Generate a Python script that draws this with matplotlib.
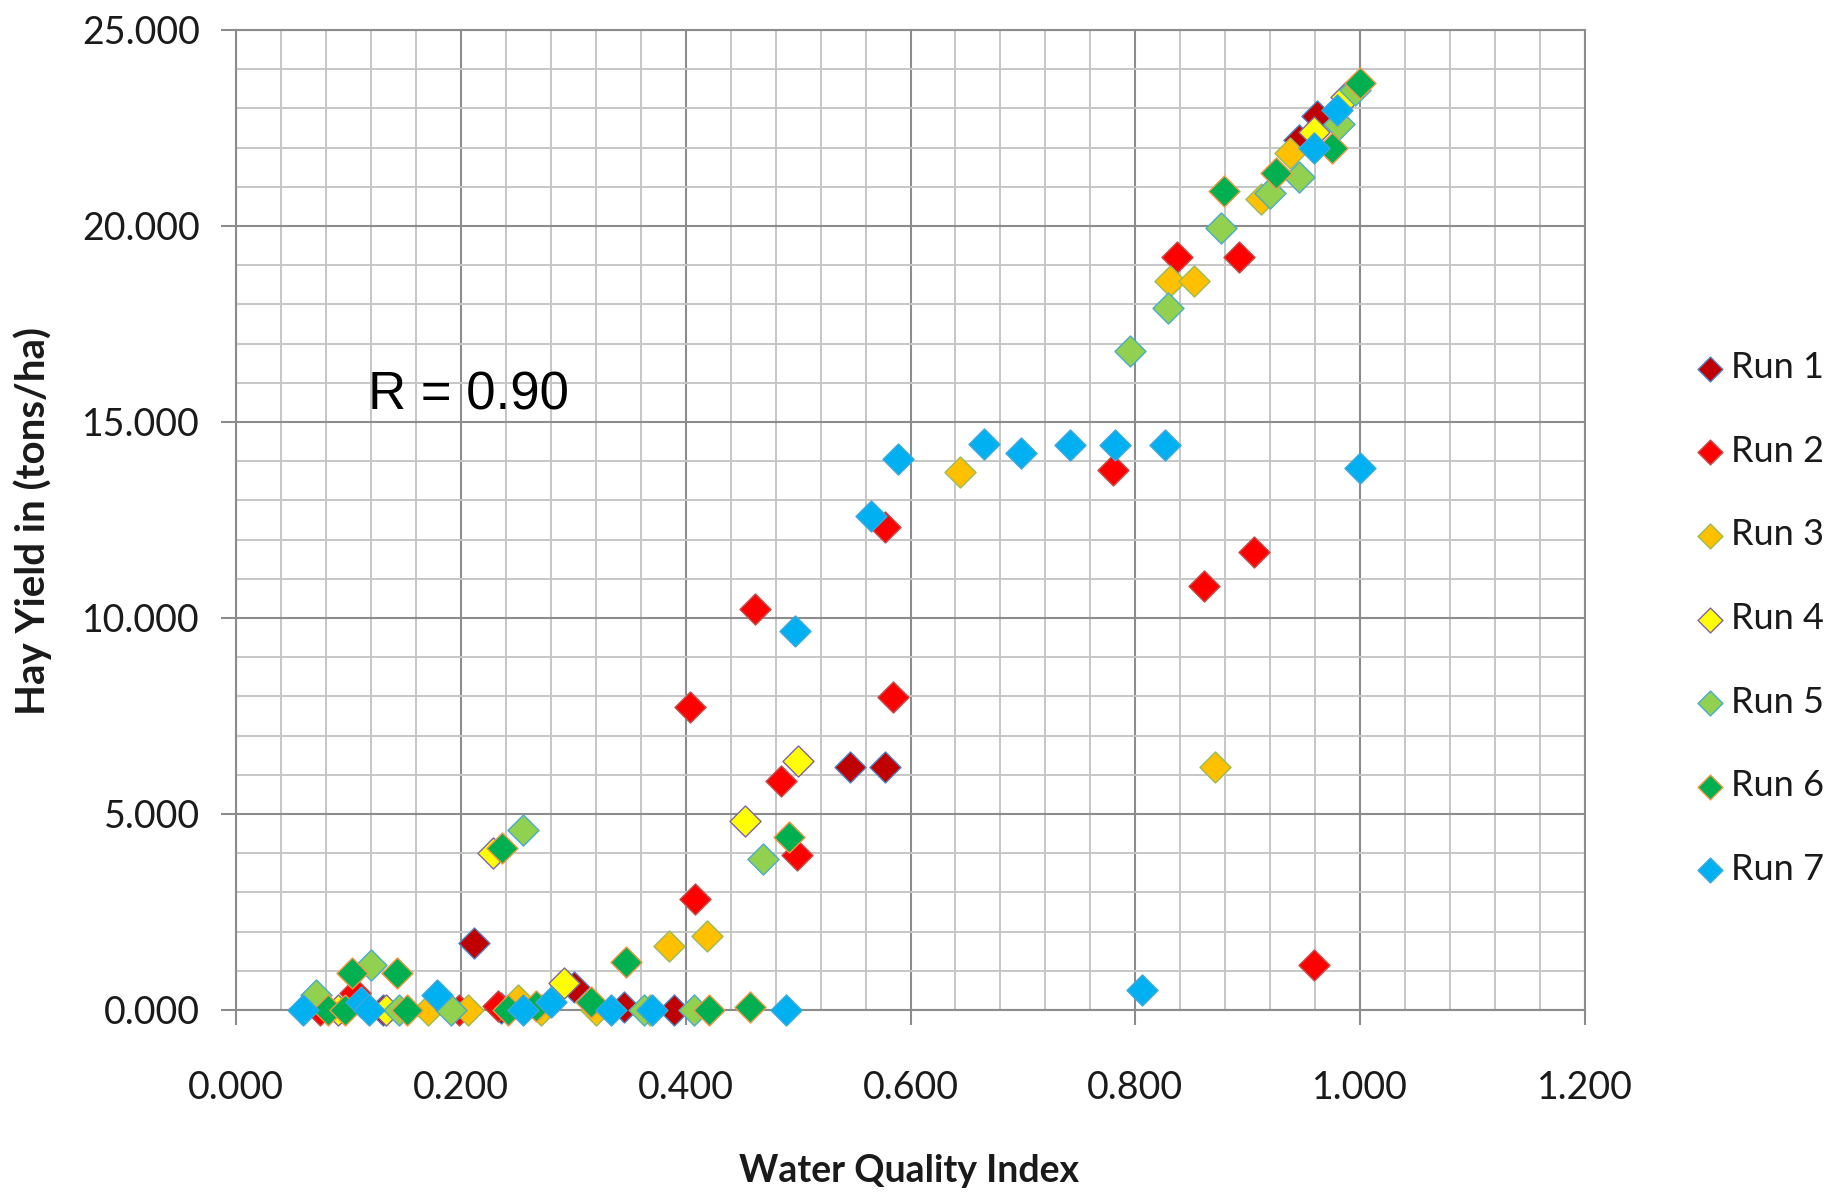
import numpy as np
import matplotlib
matplotlib.use("Agg")
import matplotlib.pyplot as plt
from matplotlib.ticker import MultipleLocator, FormatStrFormatter

# Water Quality Index (x) and Hay Yield (y) per run
run1_x = [0.131, 0.212, 0.236, 0.301, 0.345, 0.390, 0.546, 0.577, 0.946, 0.962]
run1_y = [0.00, 1.72, 0.05, 0.59, 0.08, 0.00, 6.20, 6.20, 22.20, 22.80]

run2_x = [0.075, 0.106, 0.198, 0.233, 0.404, 0.408, 0.462, 0.485, 0.499, 0.577,
          0.584, 0.780, 0.837, 0.861, 0.892, 0.906, 0.959]
run2_y = [0.00, 0.43, 0.00, 0.10, 7.72, 2.82, 10.22, 5.85, 3.95, 12.32,
          7.98, 13.78, 19.20, 10.82, 19.20, 11.68, 1.15]

run3_x = [0.171, 0.206, 0.251, 0.271, 0.320, 0.368, 0.385, 0.419, 0.644, 0.831,
          0.852, 0.871, 0.912, 0.938]
run3_y = [0.00, 0.00, 0.25, 0.00, 0.00, 0.00, 1.63, 1.90, 13.72, 18.60,
          18.60, 6.20, 20.70, 21.85]

run4_x = [0.091, 0.133, 0.229, 0.292, 0.453, 0.500, 0.959, 0.987]
run4_y = [0.00, 0.00, 4.00, 0.69, 4.82, 6.35, 22.40, 23.30]

run5_x = [0.071, 0.120, 0.145, 0.191, 0.255, 0.363, 0.407, 0.469, 0.795, 0.829,
          0.876, 0.920, 0.946, 0.981, 0.995]
run5_y = [0.38, 1.15, 0.00, 0.00, 4.60, 0.00, 0.00, 3.86, 16.80, 17.90,
          19.95, 20.85, 21.25, 22.60, 23.47]

run6_x = [0.082, 0.097, 0.103, 0.143, 0.152, 0.237, 0.242, 0.267, 0.316, 0.347,
          0.421, 0.457, 0.492, 0.879, 0.925, 0.975, 1.000]
run6_y = [0.00, 0.00, 0.94, 0.94, 0.00, 4.13, 0.00, 0.10, 0.20, 1.22,
          0.00, 0.08, 4.42, 20.90, 21.35, 22.00, 23.65]

run7_x = [0.060, 0.111, 0.118, 0.179, 0.255, 0.280, 0.334, 0.370, 0.489, 0.497,
          0.565, 0.589, 0.665, 0.698, 0.742, 0.782, 0.806, 0.826, 0.959, 0.979,
          1.000]
run7_y = [0.00, 0.20, 0.00, 0.38, 0.00, 0.20, 0.00, 0.00, 0.00, 9.68,
          12.60, 14.06, 14.44, 14.21, 14.41, 14.41, 0.50, 14.41, 22.00, 22.96,
          13.83]

run_labels = ["Run 1", "Run 2", "Run 3", "Run 4", "Run 5", "Run 6", "Run 7"]
fill_colors = ["#C00000", "#FF0000", "#FFC000", "#FFFF00", "#92D050", "#00B050", "#00B0F0"]
edge_colors = ["#4F81BD", "#C0504D", "#9BBB59", "#8064A2", "#4BACC6", "#F79646", "#3FA8DA"]

xs = [run1_x, run2_x, run3_x, run4_x, run5_x, run6_x, run7_x]
ys = [run1_y, run2_y, run3_y, run4_y, run5_y, run6_y, run7_y]

TICK_FONT = "Lato"
MAJOR_GRID = "#8C8C8C"
MINOR_GRID = "#C6C6C6"

fig = plt.figure(figsize=(18.27, 11.94), dpi=100)
ax = fig.add_axes([236 / 1827, 1 - 1010 / 1194, 1349 / 1827, 980 / 1194])

# series, drawn in order so Run 7 ends up on top
for x, y, lab, fc, ec in zip(xs, ys, run_labels, fill_colors, edge_colors):
    ax.scatter(x, y, marker="D", s=250, facecolor=fc, edgecolor=ec,
               linewidth=1.0, label=lab, clip_on=False, zorder=3)

ax.set_xlim(0, 1.2)
ax.set_ylim(0, 25)

ax.xaxis.set_major_locator(MultipleLocator(0.2))
ax.xaxis.set_minor_locator(MultipleLocator(0.04))
ax.yaxis.set_major_locator(MultipleLocator(5))
ax.yaxis.set_minor_locator(MultipleLocator(1))
ax.xaxis.set_major_formatter(FormatStrFormatter("%.3f"))
ax.yaxis.set_major_formatter(FormatStrFormatter("%.3f"))

ax.set_axisbelow(True)
ax.grid(which="minor", color=MINOR_GRID, linewidth=1.4)
ax.grid(which="major", color=MAJOR_GRID, linewidth=1.5)

for side in ["left", "bottom", "top", "right"]:
    ax.spines[side].set_color(MAJOR_GRID)
    ax.spines[side].set_linewidth(1.5)

ax.tick_params(which="major", direction="out", length=11, width=1.5, color=MAJOR_GRID,
               labelsize=27)
ax.tick_params(which="minor", length=0)
ax.tick_params(axis="x", which="major", pad=32)
ax.tick_params(axis="y", which="major", pad=15)
for lbl in ax.get_xticklabels() + ax.get_yticklabels():
    lbl.set_fontfamily(TICK_FONT)
    lbl.set_color("#1A1A1A")

fig.text(909 / 1827, 1 - 1171 / 1194, "Water Quality Index", ha="center", va="center",
         fontsize=27, fontweight="bold", family=TICK_FONT, color="#1A1A1A")
fig.text(33 / 1827, 1 - 521 / 1194, "Hay Yield in (tons/ha)", ha="center", va="center",
         rotation=90, fontsize=29, fontweight="bold", family=TICK_FONT, color="#1A1A1A")

ax.text(0.0975, 0.627, "R = 0.90", transform=ax.transAxes, ha="left", va="center",
        fontsize=38, family="Liberation Sans", color="black")

leg = fig.legend(loc="center left", bbox_to_anchor=(0.921, 0.482), frameon=False,
                 fontsize=26, handlelength=0.7, handletextpad=0.25, labelspacing=1.4,
                 markerscale=0.8, borderaxespad=0)
for t in leg.get_texts():
    t.set_fontfamily(TICK_FONT)
    t.set_color("#1A1A1A")

fig.savefig("out.png", dpi=100)
